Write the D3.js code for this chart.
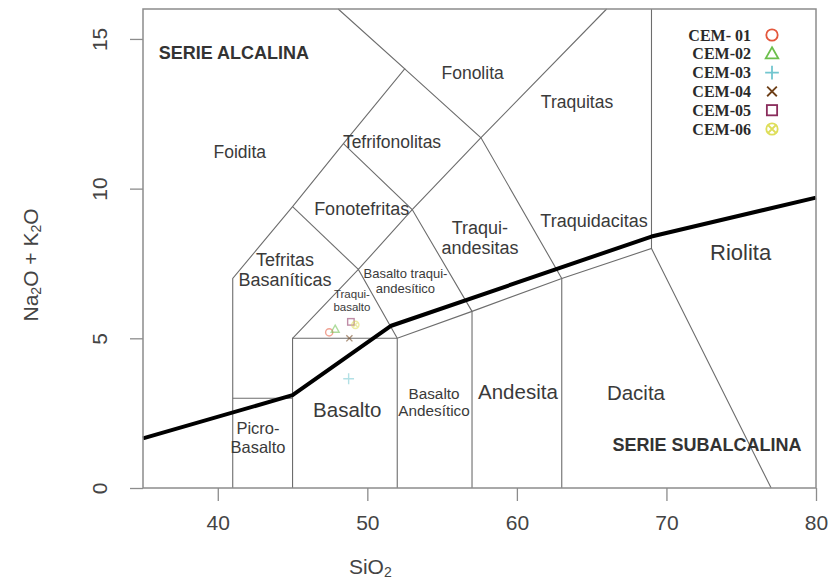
<!DOCTYPE html>
<html>
<head>
<meta charset="utf-8">
<script src="https://cdn.jsdelivr.net/npm/d3@7/dist/d3.min.js"></script>
<style>
  body { margin: 0; background: #fff; }
  svg { display: block; font-family: "Liberation Sans", Arial, sans-serif; }
</style>
</head>
<body>
<div id="chart"></div>
<script>
// sample data (SiO2 vs Na2O + K2O)
var samples = ["CEM- 01", "CEM-02", "CEM-03", "CEM-04", "CEM-05", "CEM-06"];
var sio2 = [47.45, 47.85, 48.75, 48.8, 48.9, 49.2];
var alkalis = [5.2, 5.3, 3.65, 5.0, 5.55, 5.45];
var shapes = ["circle", "triangle", "plus", "x", "square", "circlex"];
var colors = ["#e4573c", "#6cbf4c", "#72c6cf", "#6e3f17", "#8a2d5c", "#dede5a"];

var xTicks = [40, 50, 60, 70, 80];
var yTicks = [0, 5, 10, 15];

// TAS field boundaries (Le Bas et al.)
var fieldLines = [
    [[41, 0], [41, 7], [45, 9.4], [48.4, 11.5], [52.5, 14], [48.05, 16]],
    [[41, 3], [45, 3]],
    [[45, 0], [45, 5], [52, 5], [57, 5.9], [63, 7], [69, 8], [77, 0]],
    [[52, 0], [52, 5]],
    [[57, 0], [57, 5.9]],
    [[63, 0], [63, 7]],
    [[69, 8], [69, 16]],
    [[45, 5], [49.4, 7.3], [52, 5]],
    [[45, 9.4], [49.4, 7.3]],
    [[48.4, 11.5], [53, 9.3], [57, 5.9]],
    [[52.5, 14], [57.6, 11.7], [63, 7]],
    [[49.4, 7.3], [53, 9.3], [57.6, 11.7], [66, 16]]
];
// alkaline / subalkaline divide
var divideLine = [[35, 1.66], [45, 3.1], [51.6, 5.42], [69, 8.4], [80, 9.7]];

var fieldNames = [
    {t: ["Foidita"], x: 41.47, y: 11.23, s: 17.5},
    {t: ["Fonolita"], x: 57.04, y: 13.86, s: 17.5},
    {t: ["Traquitas"], x: 64.02, y: 12.89, s: 17.5},
    {t: ["Tefrifonolitas"], x: 51.65, y: 11.57, s: 17.5},
    {t: ["Fonotefritas"], x: 49.62, y: 9.32, s: 18},
    {t: ["Traqui-", "andesitas"], x: 57.53, y: 8.35, s: 18},
    {t: ["Traquidacitas"], x: 65.16, y: 8.93, s: 18},
    {t: ["Riolita"], x: 74.96, y: 7.86, s: 22},
    {t: ["Tefritas", "Basaníticas"], x: 44.49, y: 7.29, s: 18},
    {t: ["Basalto traqui-", "andesítico"], x: 52.55, y: 6.91, s: 13},
    {t: ["Traqui-", "basalto"], x: 48.97, y: 6.25, s: 11.5},
    {t: ["Basalto"], x: 48.66, y: 2.63, s: 20.5},
    {t: ["Picro-", "Basalto"], x: 42.69, y: 1.68, s: 16.5},
    {t: ["Basalto", "Andesítico"], x: 54.46, y: 2.87, s: 15.3},
    {t: ["Andesita"], x: 60.07, y: 3.21, s: 20.5},
    {t: ["Dacita"], x: 67.96, y: 3.18, s: 20.5}
];
var seriesNames = [
    {t: "SERIE ALCALINA", x: 41.08, y: 14.53},
    {t: "SERIE SUBALCALINA", x: 72.71, y: 1.44}
];

var W = 833, H = 581;
var svg = d3.select("#chart").append("svg")
    .attr("width", W)
    .attr("height", H);

var x = d3.scaleLinear().domain([35, 80]).range([143, 816]);
var y = d3.scaleLinear().domain([0, 16]).range([488, 9]);
var line = d3.line().x(function (d) { return x(d[0]); }).y(function (d) { return y(d[1]); });

// field boundaries
svg.append("g").selectAll("path")
    .data(fieldLines)
    .enter().append("path")
    .attr("d", line)
    .attr("fill", "none")
    .attr("stroke", "#6d6d6d")
    .attr("stroke-width", 1.1);

svg.append("path")
    .datum(divideLine)
    .attr("d", line)
    .attr("fill", "none")
    .attr("stroke", "#000")
    .attr("stroke-width", 4)
    .attr("stroke-linejoin", "round");

// frame
svg.append("rect")
    .attr("x", x(35)).attr("y", y(16))
    .attr("width", x(80) - x(35)).attr("height", y(0) - y(16))
    .attr("fill", "none")
    .attr("stroke", "#8c8c8c")
    .attr("stroke-width", 1.5);

// axes
var xAxis = svg.append("g")
    .attr("transform", "translate(0," + y(0) + ")")
    .call(d3.axisBottom(x).tickValues(xTicks).tickSize(13).tickPadding(14));
var yAxis = svg.append("g")
    .attr("transform", "translate(" + x(35) + ",0)")
    .call(d3.axisLeft(y).tickValues(yTicks).tickSize(13).tickPadding(0));
[xAxis, yAxis].forEach(function (a) {
    a.select(".domain").remove();
    a.selectAll(".tick line").attr("stroke", "#8c8c8c").attr("stroke-width", 1.3);
    a.selectAll("text").attr("fill", "#444").attr("font-size", 21)
        .attr("font-family", "Liberation Sans, Arial, sans-serif");
});
yAxis.selectAll("text")
    .attr("x", null).attr("dy", null)
    .attr("text-anchor", "middle")
    .attr("dominant-baseline", "central")
    .attr("transform", "translate(-44,0) rotate(-90)");

// axis titles
var xt = svg.append("text")
    .attr("x", x(50.2)).attr("y", 574)
    .attr("text-anchor", "middle")
    .attr("font-size", 21).attr("fill", "#444");
xt.append("tspan").text("SiO");
xt.append("tspan").text("2").attr("font-size", 14).attr("dy", 3);

var yt = svg.append("text")
    .attr("transform", "translate(38," + y(7.45) + ") rotate(-90)")
    .attr("text-anchor", "middle")
    .attr("font-size", 21).attr("fill", "#444");
yt.append("tspan").text("Na");
yt.append("tspan").text("2").attr("font-size", 14).attr("dy", 3);
yt.append("tspan").text("O + K").attr("dy", -3);
yt.append("tspan").text("2").attr("font-size", 14).attr("dy", 3);
yt.append("tspan").text("O").attr("dy", -3);

// field names
var fn = svg.append("g").selectAll("text")
    .data(fieldNames)
    .enter().append("text")
    .attr("text-anchor", "middle")
    .attr("fill", "#3a3a3a")
    .attr("font-size", function (d) { return d.s; });
fn.each(function (d) {
    var t = d3.select(this);
    var lh = d.s * 1.12;
    var y0 = y(d.y) - (d.t.length - 1) * lh / 2;
    d.t.forEach(function (s, i) {
        t.append("tspan")
            .attr("x", x(d.x))
            .attr("y", y0 + i * lh)
            .attr("dominant-baseline", "central")
            .text(s);
    });
});

svg.append("g").selectAll("text")
    .data(seriesNames)
    .enter().append("text")
    .attr("x", function (d) { return x(d.x); })
    .attr("y", function (d) { return y(d.y); })
    .attr("text-anchor", "middle")
    .attr("dominant-baseline", "central")
    .attr("font-weight", "bold")
    .attr("font-size", 18)
    .attr("fill", "#333")
    .text(function (d) { return d.t; });

// marker shapes
function marker(g, shape, color, r, sw) {
    if (shape === "circle") {
        g.append("circle").attr("r", r);
    } else if (shape === "triangle") {
        g.append("path").attr("d", "M0," + (-r * 1.15) + "L" + (r * 1.1) + "," + (r * 0.8) + "L" + (-r * 1.1) + "," + (r * 0.8) + "Z");
    } else if (shape === "square") {
        g.append("rect").attr("x", -r * 0.9).attr("y", -r * 0.9).attr("width", r * 1.8).attr("height", r * 1.8);
    } else if (shape === "plus") {
        g.append("path").attr("d", "M" + (-r * 1.2) + ",0H" + (r * 1.2) + "M0," + (-r * 1.2) + "V" + (r * 1.2));
    } else if (shape === "x") {
        var k = r * 0.85;
        g.append("path").attr("d", "M" + (-k) + "," + (-k) + "L" + k + "," + k + "M" + (-k) + "," + k + "L" + k + "," + (-k));
    } else if (shape === "circlex") {
        var c = r * 0.7;
        g.append("circle").attr("r", r);
        g.append("path").attr("d", "M" + (-c) + "," + (-c) + "L" + c + "," + c + "M" + (-c) + "," + c + "L" + c + "," + (-c));
    }
    g.selectAll("*").attr("fill", "none").attr("stroke", color).attr("stroke-width", sw);
}

// data points
samples.forEach(function (s, i) {
    var g = svg.append("g")
        .attr("transform", "translate(" + x(sio2[i]) + "," + y(alkalis[i]) + ")")
        .attr("opacity", 0.55);
    marker(g, shapes[i], colors[i], i === 2 ? 4.5 : 3.6, 1.4);
});

// legend
var legend = svg.append("g");
samples.forEach(function (s, i) {
    var ly = 35 + i * 18.8;
    legend.append("text")
        .attr("x", 751).attr("y", ly)
        .attr("text-anchor", "end")
        .attr("dominant-baseline", "central")
        .attr("font-family", "Liberation Serif, Times New Roman, serif")
        .attr("font-size", 16)
        .attr("font-weight", "bold")
        .attr("fill", "#2a2a2a")
        .text(s);
    var g = legend.append("g").attr("transform", "translate(772," + ly + ")");
    marker(g, shapes[i], colors[i], 5.7, 1.8);
});
</script>
</body>
</html>
